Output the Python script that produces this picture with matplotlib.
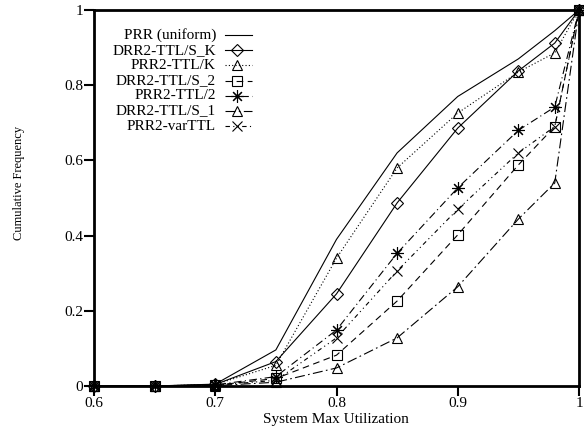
import numpy as np
import matplotlib.pyplot as plt

plt.rcParams["font.family"] = ["Liberation Serif", "DejaVu Serif"]
plt.rcParams["font.size"] = 11

# system max utilization sample points
util = [0.6, 0.65, 0.7, 0.75, 0.8, 0.85, 0.9, 0.95, 0.98, 1.0]

# cumulative frequency for each scheme
prr_uniform = [0, 0, 0.005, 0.096, 0.39, 0.62, 0.77, 0.87, 0.945, 1.0]
drr2_ttl_s_k = [0, 0, 0.004, 0.065, 0.245, 0.487, 0.686, 0.838, 0.912, 1.0]
prr2_ttl_k = [0, 0, 0.004, 0.055, 0.34, 0.58, 0.726, 0.835, 0.886, 1.0]
drr2_ttl_s_2 = [0, 0, 0.002, 0.02, 0.082, 0.226, 0.402, 0.588, 0.69, 1.0]
prr2_ttl_2 = [0, 0, 0.003, 0.025, 0.149, 0.353, 0.527, 0.68, 0.742, 1.0]
drr2_ttl_s_1 = [0, 0, 0.001, 0.01, 0.048, 0.128, 0.264, 0.444, 0.54, 1.0]
prr2_varttl = [0, 0, 0.002, 0.015, 0.128, 0.306, 0.47, 0.62, 0.69, 1.0]

names = ["PRR (uniform)", "DRR2-TTL/S_K", "PRR2-TTL/K", "DRR2-TTL/S_2",
         "PRR2-TTL/2", "DRR2-TTL/S_1", "PRR2-varTTL"]
series = [prr_uniform, drr2_ttl_s_k, prr2_ttl_k, drr2_ttl_s_2,
          prr2_ttl_2, drr2_ttl_s_1, prr2_varttl]

star = (8, 2, 0)
styles = [
    ("-", "None", 0),
    ("-", "D", 6),
    ((0, (1, 2)), "^", 6.5),
    ((0, (6, 4)), "s", 7),
    ((0, (7, 3, 1, 3)), star, 9),
    ((0, (9, 3, 1.5, 3)), "^", 6.5),
    ((0, (4, 3, 1, 3, 1, 3)), "x", 7),
]

fig = plt.figure(figsize=(5.84, 4.34), dpi=100)
ax = fig.add_axes([94 / 584, 1 - 386 / 434, (579 - 94) / 584, (386 - 10) / 434])

for ys, (ls, mk, ms) in zip(series, styles):
    ax.plot(util, ys, color="black", lw=0.8, linestyle=ls, marker=mk,
            markersize=ms, markerfacecolor="none",
            markeredgecolor="black", markeredgewidth=0.8, clip_on=False)

ax.set_xlim(0.6, 1.0)
ax.set_ylim(0, 1)
ax.set_xticks([0.6, 0.7, 0.8, 0.9, 1.0])
ax.set_xticklabels(["0.6", "0.7", "0.8", "0.9", "1"])
ax.set_yticks([0, 0.2, 0.4, 0.6, 0.8, 1.0])
ax.set_yticklabels(["0", "0.2", "0.4", "0.6", "0.8", "1"])
ax.tick_params(direction="out", length=7, width=1.5, pad=1, labelsize=11)
for sp in ax.spines.values():
    sp.set_linewidth(2)

fig.text(336 / 584, 1 - 419 / 434, "System Max Utilization", ha="center",
         va="center", fontsize=11)
fig.text(19 / 584, 1 - 183 / 434, "Cumulative Frequency", ha="center",
         va="center", rotation=90, fontsize=9)

# key: right-aligned names with a short line sample to the right
tr = ax.transAxes
for i, (name, (ls, mk, ms)) in enumerate(zip(names, styles)):
    y = 1 - (35 + 15.2 * i - 10) / 376
    x_txt = (216 - 94) / 485
    x0, x1 = (225 - 94) / 485, (252 - 94) / 485
    ax.text(x_txt, y, name, transform=tr, ha="right", va="center",
            fontsize=11)
    ax.plot([x0, x1], [y, y], transform=tr, color="black", lw=0.8,
            linestyle=ls)
    if mk != "None":
        ax.plot([(225 + 12 - 94) / 485], [y], transform=tr, marker=mk,
                markersize=ms, markerfacecolor="none",
                markeredgecolor="black", markeredgewidth=0.8, color="black")

fig.savefig("out.png", dpi=100)
